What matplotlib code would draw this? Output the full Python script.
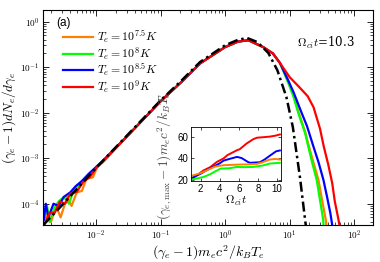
import numpy as np
import matplotlib
matplotlib.use("Agg")
import matplotlib.pyplot as plt
from matplotlib.ticker import FuncFormatter, LogLocator, NullFormatter

plt.rcParams['font.family'] = ['Liberation Sans', 'DejaVu Sans']
plt.rcParams['mathtext.fontset'] = 'cm'

# ---- main panel data (log10 of x and y) ----
black_lx = [-2.82, -2.5, -2.05, -1.5, -1.0, -0.68, -0.39, 0.0, 0.2, 0.34, 0.5, 0.67, 0.81, 0.95, 1.05, 1.16, 1.24, 1.28]
black_ly = [-4.47, -3.99, -3.29, -2.47, -1.73, -1.30, -0.89, -0.52, -0.40, -0.36, -0.45, -0.69, -1.07, -1.66, -2.32, -3.42, -4.36, -4.8]

body_lx = [-1.5, -1.0, -0.68, -0.39, 0.0, 0.2, 0.36, 0.59, 0.74, 0.85]
body_ly = [-2.49, -1.75, -1.33, -0.92, -0.56, -0.44, -0.41, -0.56, -0.70, -0.91]

orange_low_lx = [-2.80, -2.74, -2.70, -2.62, -2.55, -2.45, -2.38, -2.30, -2.22, -2.15, -2.05, -1.97, -1.9]
orange_low_ly = [-4.45, -4.2, -4.4, -4.05, -4.3, -3.85, -4.05, -3.75, -3.72, -3.45, -3.42, -3.15, -3.1]
orange_tail_lx = [0.98, 1.06, 1.14, 1.24, 1.30, 1.37, 1.447, 1.50, 1.56, 1.58]
orange_tail_ly = [-1.30, -1.62, -2.0, -2.42, -2.75, -3.1, -3.48, -3.9, -4.35, -4.6]

green_low_lx = [-2.80, -2.76, -2.72, -2.65, -2.58, -2.50, -2.42, -2.35, -2.25, -2.15, -2.05, -1.9]
green_low_ly = [-4.3, -4.05, -4.4, -4.1, -3.95, -3.85, -4.0, -3.7, -3.58, -3.45, -3.28, -3.08]
green_tail_lx = [0.98, 1.06, 1.137, 1.24, 1.29, 1.35, 1.42, 1.48, 1.52, 1.53]
green_tail_ly = [-1.35, -1.65, -2.02, -2.45, -2.75, -3.1, -3.48, -4.0, -4.35, -4.6]

blue_low_lx = [-2.81, -2.78, -2.74, -2.66, -2.58, -2.50, -2.40, -2.32, -2.22, -2.12, -2.02, -1.9]
blue_low_ly = [-4.35, -4.0, -4.3, -4.0, -4.05, -3.85, -3.75, -3.62, -3.5, -3.35, -3.22, -3.06]
blue_tail_lx = [0.98, 1.06, 1.19, 1.27, 1.37, 1.45, 1.524, 1.58, 1.63, 1.66, 1.68]
blue_tail_ly = [-1.30, -1.55, -2.02, -2.30, -2.75, -3.10, -3.48, -3.85, -4.2, -4.47, -4.6]

red_low_lx = [-2.80, -2.72, -2.64, -2.56, -2.48, -2.40, -2.30, -2.20, -2.10, -2.0, -1.9]
red_low_ly = [-4.45, -4.2, -4.2, -3.95, -4.0, -3.78, -3.74, -3.52, -3.42, -3.22, -3.08]
red_tail_lx = [1.0, 1.15, 1.28, 1.37, 1.47, 1.53, 1.60, 1.66, 1.70, 1.75, 1.79]
red_tail_ly = [-1.22, -1.44, -1.64, -1.88, -2.35, -2.75, -3.15, -3.55, -3.95, -4.30, -4.6]

labels = [r'$T_e=10^{7.5}K$', r'$T_e=10^{8}K$', r'$T_e=10^{8.5}K$', r'$T_e=10^{9}K$']
colors = ['#FF8000', '#00FF00', '#0000FF', '#FF0000']

# ---- inset data ----
red_t = [1.04, 2.3, 3.0, 3.7, 4.4, 4.8, 5.8, 6.1, 6.8, 7.5, 7.9, 8.6, 9.25, 9.9, 10.3]
red_v = [21, 29, 32, 36.8, 40, 43, 47.5, 48.5, 53.6, 57.6, 59, 59.5, 60, 61, 62]
blue_t = [1.05, 2.0, 3.0, 4.0, 4.4, 5.0, 5.8, 6.0, 6.3, 7.0, 7.2, 8.2, 8.7, 9.25, 9.9, 10.3]
blue_v = [22, 26, 31, 35.5, 38, 39.5, 41.4, 41, 40.3, 36.5, 36, 36.5, 39, 42.5, 46.5, 47.3]
orange_t = [1.0, 2.0, 3.0, 3.5, 4.4, 5.0, 6.1, 7.0, 7.9, 8.5, 9.25, 9.8, 10.3]
orange_v = [24, 26.5, 30.5, 32.5, 33.8, 34, 34.4, 34.5, 35, 36.5, 39, 39.5, 39]
green_t = [1.0, 2.3, 3.0, 3.5, 4.1, 5.0, 5.8, 6.5, 7.5, 8.5, 9.25, 10.3]
green_v = [20.5, 23, 25.5, 28, 30.7, 31, 32.2, 32, 32.2, 33.5, 35.3, 36]


def series(low_lx, low_ly, tail_lx, tail_ly):
    lx = np.array(low_lx + body_lx + tail_lx)
    ly = np.array(low_ly + body_ly + tail_ly)
    return 10.0 ** lx, 10.0 ** ly


fig = plt.figure(figsize=(3.8, 2.62), dpi=100)
ax = fig.add_axes([0.113, 0.141, 0.869, 0.821])

all_series = [
    series(orange_low_lx, orange_low_ly, orange_tail_lx, orange_tail_ly),
    series(green_low_lx, green_low_ly, green_tail_lx, green_tail_ly),
    series(blue_low_lx, blue_low_ly, blue_tail_lx, blue_tail_ly),
    series(red_low_lx, red_low_ly, red_tail_lx, red_tail_ly),
]
for (x, y), c, lab in zip(all_series, colors, labels):
    ax.plot(x, y, color=c, lw=1.6, label=lab)
ax.plot(10.0 ** np.array(black_lx), 10.0 ** np.array(black_ly), color='black', lw=1.8,
        linestyle=(0, (4, 1.5, 1, 1.5)))

ax.set_xscale('log')
ax.set_yscale('log')
ax.set_xlim(1.5e-3, 197)
ax.set_ylim(3.4e-5, 1.8)

fmt = FuncFormatter(lambda v, p: r'$\mathsf{10^{%d}}$' % int(round(np.log10(v))))
ax.xaxis.set_major_locator(LogLocator(base=10, numticks=20))
ax.yaxis.set_major_locator(LogLocator(base=10, numticks=20))
ax.xaxis.set_minor_locator(LogLocator(base=10, subs=np.arange(2, 10), numticks=20))
ax.yaxis.set_minor_locator(LogLocator(base=10, subs=np.arange(2, 10), numticks=20))
ax.xaxis.set_major_formatter(fmt)
ax.yaxis.set_major_formatter(fmt)
ax.xaxis.set_minor_formatter(NullFormatter())
ax.yaxis.set_minor_formatter(NullFormatter())
ax.tick_params(which='both', direction='in', top=True, right=True, labelsize=6.6, pad=2.5)
ax.tick_params(which='major', length=4, width=0.6)
ax.tick_params(which='minor', length=2, width=0.5)
for s in ax.spines.values():
    s.set_linewidth(0.8)

ax.set_xlabel(r'$(\gamma_e-1)m_ec^2/k_BT_e$', fontsize=10, labelpad=1)
ax.set_ylabel(r'$(\gamma_e-1)dN_e/d\gamma_e$', fontsize=9.5)
ax.yaxis.set_label_coords(-0.076, 0.5)

leg = ax.legend(loc='upper left', bbox_to_anchor=(0.045, 0.935), frameon=False, fontsize=8.5,
                handlelength=2.6, handletextpad=0.3, labelspacing=-0.05, borderaxespad=0)
ax.text(0.04, 0.965, '(a)', transform=ax.transAxes, fontsize=8.5, va='top', ha='left')
ax.text(0.858, 0.845, r'$\Omega_{ci}t$=10.3', transform=ax.transAxes, fontsize=8.5,
        ha='center', va='center', family='serif', math_fontfamily='cm')

# ---- inset ----
ins = fig.add_axes([0.503, 0.310, 0.236, 0.206])
ins.plot(red_t, red_v, color='#FF0000', lw=1.4)
ins.plot(blue_t, blue_v, color='#0000FF', lw=1.4)
ins.plot(orange_t, orange_v, color='#FF8000', lw=1.4)
ins.plot(green_t, green_v, color='#00FF00', lw=1.4)
ins.set_xlim(1.0, 10.4)
ins.set_ylim(19.5, 69)
ins.set_xticks([2, 4, 6, 8, 10])
ins.set_yticks([20, 40, 60])
ins.tick_params(direction='in', labelsize=7, length=2.5, width=0.5, pad=2, top=True, right=True)
for s in ins.spines.values():
    s.set_linewidth(0.6)
ins.set_xlabel(r'$\Omega_{ci}t$', fontsize=8.5, labelpad=0)
ins.set_ylabel(r'$(\gamma_{e,\max}-1)m_ec^2/k_BT_e$', fontsize=9.5, color='#444444')
ins.yaxis.set_label_coords(-0.19, 0.47)

fig.savefig('out.png', dpi=100)
